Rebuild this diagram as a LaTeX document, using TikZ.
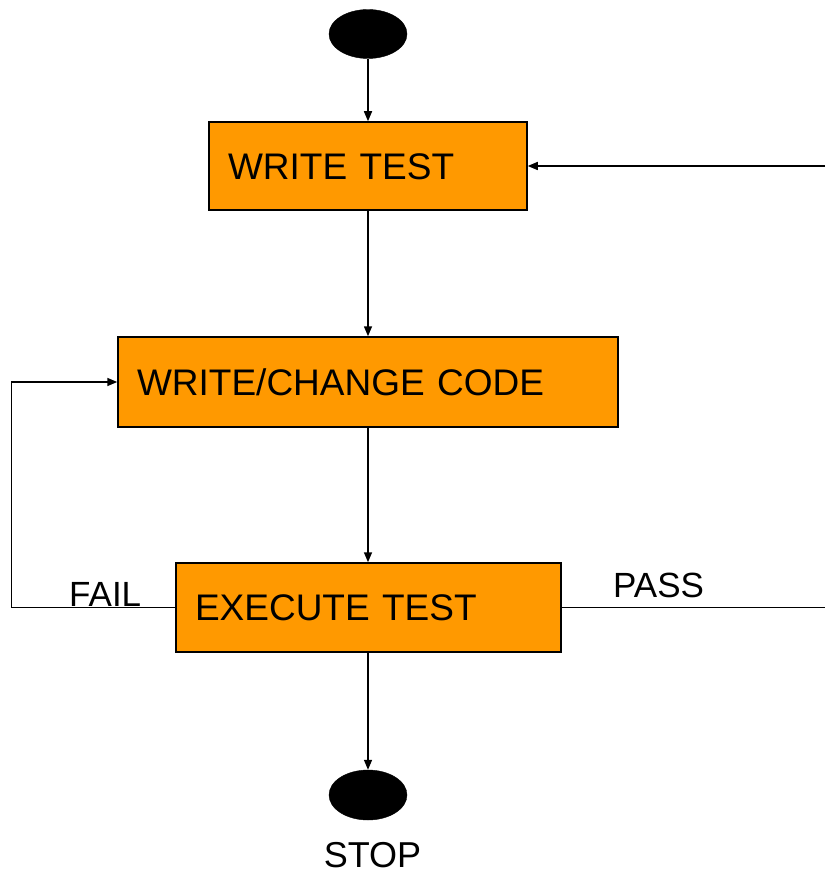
\documentclass[tikz,border=0pt]{standalone}
\usepackage{fontspec}
\setmainfont{Liberation Sans}
\usetikzlibrary{arrows.meta,shapes.geometric}
\definecolor{boxorange}{HTML}{FF9900}
\begin{document}
\begin{tikzpicture}[x=1pt,y=-1pt,
  box/.style={draw=black,line width=1.5pt,fill=boxorange,rectangle,
    font=\fontsize{37}{40}\selectfont,text height=26.5pt,text depth=0pt,
    inner xsep=19pt,inner ysep=0pt,align=left,anchor=center},
  blob/.style={ellipse,fill=black,draw=black,minimum width=78pt,minimum height=49pt,inner sep=0pt},
  lbl/.style={font=\fontsize{35}{40}\selectfont,inner sep=0pt},
  arr/.style={-{Triangle[length=10pt,width=8pt]},line width=1.5pt},
  ln/.style={line width=1.5pt}]
\useasboundingbox (0,0) rectangle (825,874);
\node[blob] (start) at (368,34) {};
\node[box,minimum width=318pt,minimum height=88pt,text width=280pt] (wt) at (368,166) {WRITE TEST};
\node[box,minimum width=500pt,minimum height=90pt,text width=462pt] (wc) at (368,382) {WRITE/CHANGE CODE};
\node[box,minimum width=385pt,minimum height=89pt,text width=347pt] (ex) at (368.5,607.5) {EXECUTE TEST};
\node[blob,minimum height=50pt] (stop) at (368,795) {};
\node[lbl,anchor=base west] (fail) at (69,606) {FAIL};
\node[lbl,anchor=base west] (pass) at (613,597) {PASS};
\node[lbl,anchor=base,font=\fontsize{36}{40}\selectfont] (stoplbl) at (372.5,867) {STOP};
\coordinate (pr) at (825,166);
\coordinate (pe) at (825,607.5);
\draw[arr] (start.south) -- (wt.north -| start.south);
\draw[arr] (wt.south -| start.south) -- (wc.north -| start.south);
\draw[arr] (wc.south -| start.south) -- (ex.north -| start.south);
\draw[arr] (ex.south -| start.south) -- (stop.north);
\draw[arr] (pr) -- (wt.east);
\draw[ln] (ex.east) -- (pe);
\draw[arr] (ex.west) -- ++(-164,0) |- (wc.west);
\end{tikzpicture}
\end{document}
